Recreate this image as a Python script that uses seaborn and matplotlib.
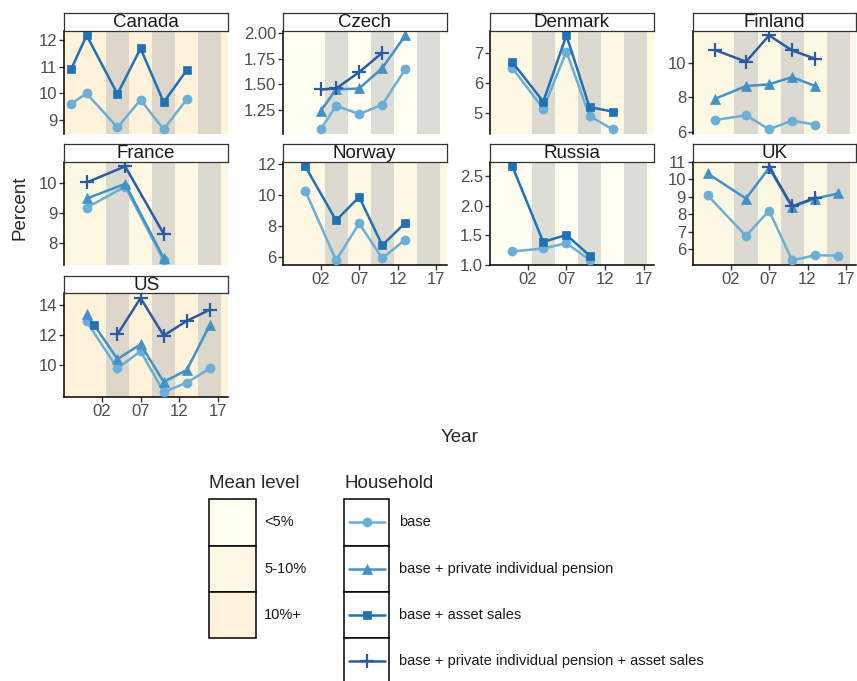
import numpy as np
import pandas as pd
import matplotlib.pyplot as plt
import seaborn as sns
from matplotlib.patches import Rectangle
from matplotlib.lines import Line2D

nan = np.nan

# ---- data (percent) ----
households = ["base", "base + private individual pension",
              "base + asset sales", "base + private individual pension + asset sales"]
hh_colors = ["#6BAED6", "#4292C6", "#2171B5", "#2B5BA1"]
hh_markers = ["o", "^", "s", "+"]

countries = ["Canada", "Czech", "Denmark", "Finland", "France",
             "Norway", "Russia", "UK", "US"]
mean_level = ["10%+", "<5%", "5-10%", "5-10%", "5-10%",
              "5-10%", "<5%", "5-10%", "10%+"]
levels = ["<5%", "5-10%", "10%+"]
level_colors = ["#FEFEF2", "#FCF8E4", "#FEF2DA"]

canada_yr = [1998, 2000, 2004, 2007, 2010, 2013]
canada_base = [9.62, 10.0, 8.72, 9.76, 8.65, 9.78]
canada_asset = [10.92, 12.19, 9.98, 11.70, 9.67, 10.88]

czech_yr = [2002, 2004, 2007, 2010, 2013]
czech_base = [1.06, 1.29, 1.21, 1.30, 1.65]
czech_pension = [1.24, 1.45, 1.46, 1.66, 1.98]
czech_both = [1.45, 1.46, 1.62, 1.81, nan]

denmark_yr = [2000, 2004, 2007, 2010, 2013]
denmark_base = [6.51, 5.16, 7.06, 4.91, 4.47]
denmark_asset = [6.71, 5.39, 7.60, 5.21, 5.06]

finland_yr = [2000, 2004, 2007, 2010, 2013]
finland_base = [6.69, 6.96, 6.15, 6.65, 6.42]
finland_pension = [7.92, 8.65, 8.75, 9.17, 8.65]
finland_both = [10.73, 10.06, 11.58, 10.71, 10.23]

france_yr = [2000, 2005, 2010]
france_base = [9.18, 9.89, 7.41]
france_pension = [9.49, 9.98, 7.48]
france_both = [10.03, 10.57, 8.30]

norway_yr = [2000, 2004, 2007, 2010, 2013]
norway_base = [10.27, 5.79, 8.17, 5.92, 7.13]
norway_asset = [11.85, 8.36, 9.88, 6.76, 8.21]

russia_yr = [2000, 2004, 2007, 2010]
russia_base = [1.23, 1.28, 1.37, 1.09]
russia_asset = [2.67, 1.39, 1.51, 1.16]

uk_yr = [1999, 2004, 2007, 2010, 2013, 2016]
uk_base = [9.08, 6.77, 8.21, 5.38, 5.67, 5.65]
uk_pension = [10.33, 8.90, 10.65, 8.42, 8.90, 9.19]
uk_both = [nan, nan, 10.72, 8.45, 8.95, nan]

us_yr = [2000, 2001, 2004, 2007, 2010, 2013, 2016]
us_base = [12.89, nan, 9.78, 10.93, 8.22, 8.84, 9.78]
us_pension = [13.38, nan, 10.40, 11.38, 8.89, 9.67, 12.67]
us_asset = [nan, 12.67, nan, nan, nan, nan, nan]
us_both = [nan, nan, 12.04, 14.44, 11.96, 12.93, 13.67]

series = {
    "Canada": (canada_yr, {0: canada_base, 2: canada_asset}),
    "Czech": (czech_yr, {0: czech_base, 1: czech_pension, 3: czech_both}),
    "Denmark": (denmark_yr, {0: denmark_base, 2: denmark_asset}),
    "Finland": (finland_yr, {0: finland_base, 1: finland_pension, 3: finland_both}),
    "France": (france_yr, {0: france_base, 1: france_pension, 3: france_both}),
    "Norway": (norway_yr, {0: norway_base, 2: norway_asset}),
    "Russia": (russia_yr, {0: russia_base, 2: russia_asset}),
    "UK": (uk_yr, {0: uk_base, 1: uk_pension, 3: uk_both}),
    "US": (us_yr, {0: us_base, 1: us_pension, 2: us_asset, 3: us_both}),
}

yticks = {
    "Canada": [9, 10, 11, 12], "Czech": [1.25, 1.5, 1.75, 2.0],
    "Denmark": [5, 6, 7], "Finland": [6, 8, 10], "France": [8, 9, 10],
    "Norway": [6, 8, 10, 12], "Russia": [1.0, 1.5, 2.0, 2.5],
    "UK": [6, 7, 8, 9, 10, 11], "US": [10, 12, 14],
}
ytick_fmt = {"Czech": "{:.2f}", "Russia": "{:.1f}"}

xticks = [2002, 2007, 2012, 2017]
xticklabels = ["02", "07", "12", "17"]
grey_stripes = [2002.5, 2008.5, 2014.5]
bottom_panels = ["Norway", "Russia", "UK", "US"]

rows = []
for ctry, (yrs, ser) in series.items():
    for k, vals in ser.items():
        for y, v in zip(yrs, vals):
            rows.append({"country": ctry, "household": households[k], "year": y, "value": v})
df = pd.DataFrame(rows).dropna()

# ---- style ----
sns.set_style("white")
plt.rcParams["font.family"] = ["Liberation Sans", "DejaVu Sans"]

W, H = 857, 681
fig = plt.figure(figsize=(W / 100, H / 100), dpi=100)


def box(x0, y0, x1, y1):
    return [x0 / W, 1 - y1 / H, (x1 - x0) / W, (y1 - y0) / H]


def marker_kw(k):
    if hh_markers[k] == "+":
        return dict(markersize=9.5, markeredgewidth=1.6)
    if hh_markers[k] == "s":
        return dict(markersize=6, markeredgewidth=0.5)
    return dict(markersize=6.5, markeredgewidth=0.5)


col_x = [(64.3, 228), (283, 446.5), (490, 654), (693, 856.3)]
strip_top = [13.3, 144.3, 276]
strip_h, panel_h = 17.4, 103.3

for i, ctry in enumerate(countries):
    r, c = divmod(i, 4)
    x0, x1 = col_x[c]
    st = strip_top[r]
    ax = fig.add_axes(box(x0, st + strip_h, x1, st + strip_h + panel_h))
    sx = fig.add_axes(box(x0, st, x1, st + strip_h))

    fill = level_colors[levels.index(mean_level[i])]
    ax.axvspan(1990, 2030, color=fill, lw=0, zorder=0)
    for g in grey_stripes:
        ax.axvspan(g, g + 3, color="#BEBEBE", alpha=0.5, lw=0, zorder=0.5)

    sub = df[df.country == ctry]
    for k, h in enumerate(households):
        d = sub[sub.household == h]
        if d.empty:
            continue
        sns.lineplot(data=d, x="year", y="value", ax=ax, color=hh_colors[k],
                     marker=hh_markers[k], markeredgecolor=hh_colors[k],
                     lw=1.8, legend=False, zorder=3 + k, **marker_kw(k))

    ax.set_xlim(1997.1, 2018.35)
    ax.set_xlabel("")
    ax.set_ylabel("")
    yt = yticks[ctry]
    ax.set_yticks(yt)
    fmt = ytick_fmt.get(ctry, "{:.0f}")
    ax.set_yticklabels([fmt.format(v) for v in yt])
    for s in ["top", "right"]:
        ax.spines[s].set_visible(False)
    ax.spines["left"].set_color("black")
    ax.spines["left"].set_linewidth(1.1)
    ax.tick_params(axis="both", which="both", left=True, length=3.5, width=1,
                   color="#333333", labelsize=12, labelcolor="#4D4D4D", pad=1.5)
    if ctry in bottom_panels:
        ax.spines["bottom"].set_color("black")
        ax.spines["bottom"].set_linewidth(1.1)
        ax.set_xticks(xticks)
        ax.set_xticklabels(xticklabels)
        ax.tick_params(axis="x", bottom=True)
    else:
        ax.spines["bottom"].set_visible(False)
        ax.set_xticks([])

    sx.set_xticks([])
    sx.set_yticks([])
    sx.set_facecolor("white")
    for s in sx.spines.values():
        s.set_color("#333333")
        s.set_linewidth(0.9)
    sx.text(0.5, 0.45, ctry, ha="center", va="center", fontsize=13.5,
            color="#1A1A1A", transform=sx.transAxes)

# ---- labels and legend in pixel space ----
ov = fig.add_axes([0, 0, 1, 1])
ov.set_xlim(0, W)
ov.set_ylim(H, 0)
ov.axis("off")
ov.patch.set_visible(False)

ov.text(460, 437, "Year", ha="center", va="center", fontsize=13.5)
ov.text(20, 208, "Percent", ha="center", va="center", fontsize=13.5, rotation=90)

ov.text(209.5, 483, "Mean level", ha="left", va="center", fontsize=13.5)
ov.text(344.5, 483, "Household", ha="left", va="center", fontsize=13.5)

key_top, key_h = 499.3, 46.3
for j, lv in enumerate(levels):
    y = key_top + j * key_h
    ov.add_patch(Rectangle((209.3, y), 46.7, key_h, facecolor=level_colors[j],
                           edgecolor="black", lw=1.1))
    ov.text(264, y + key_h / 2, lv, ha="left", va="center", fontsize=10.5, color="#1A1A1A")

for k, h in enumerate(households):
    y = key_top + k * key_h
    ov.add_patch(Rectangle((344, y), 45.3, key_h, facecolor="white",
                           edgecolor="black", lw=1.1, clip_on=False))
    yc = y + key_h / 2
    ov.add_line(Line2D([349, 385], [yc, yc], color=hh_colors[k], lw=1.8))
    ov.add_line(Line2D([367], [yc], color=hh_colors[k], marker=hh_markers[k],
                       markeredgecolor=hh_colors[k], **marker_kw(k)))
    ov.text(399, yc, h, ha="left", va="center", fontsize=10.5, color="#1A1A1A")

fig.savefig("out.png", dpi=100)
